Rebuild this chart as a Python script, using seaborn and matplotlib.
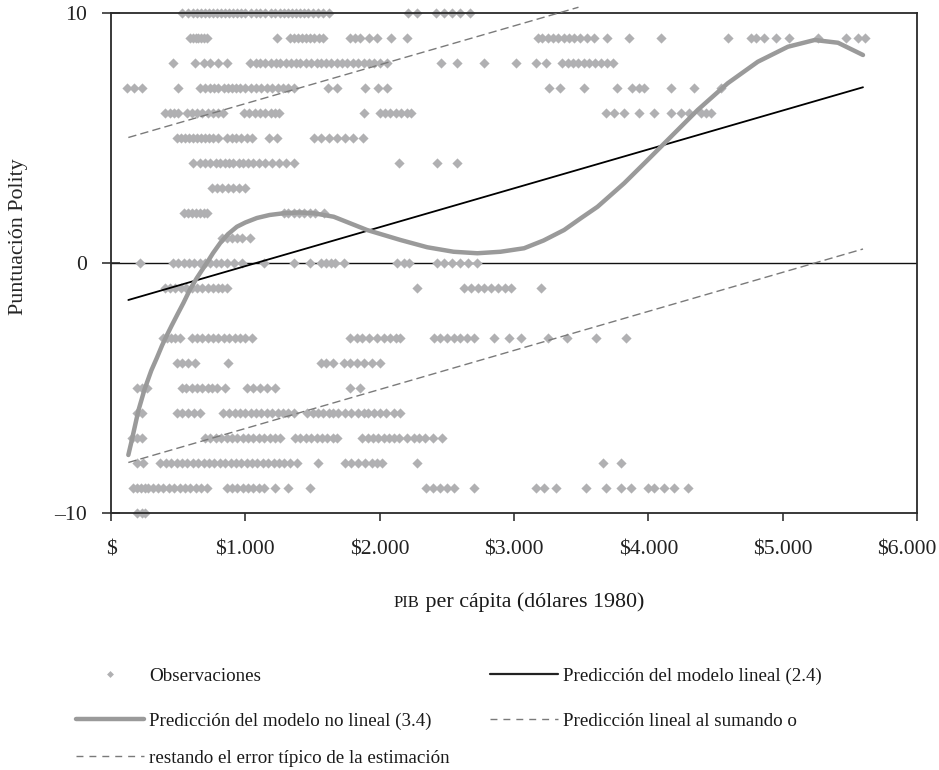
import matplotlib
matplotlib.use("Agg")
import matplotlib.pyplot as plt
import seaborn as sns
import pandas as pd
from matplotlib.lines import Line2D
from matplotlib.transforms import ScaledTranslation

# ---------------- data ----------------
# Observations: x positions (GDP per capita, 1980 $) for each Polity score row
row_p10 = [530, 570, 610, 640, 670, 700, 730, 760, 790, 820, 850, 880, 910, 940, 970, 1000,
           1040, 1080, 1110, 1150, 1190, 1220, 1260, 1290, 1320, 1350, 1380, 1410, 1440, 1470,
           1500, 1540, 1580, 1620, 2210, 2280, 2420, 2480, 2540, 2600, 2670]
row_p9 = [590, 610, 630, 650, 670, 690, 713, 1235, 1335, 1360, 1390, 1420, 1450, 1480, 1510,
          1545, 1580, 1782, 1820, 1857, 1917, 1983, 2081, 2205, 3177, 3210, 3250, 3290, 3330,
          3370, 3410, 3450, 3490, 3540, 3594, 3696, 3855, 4094, 4591, 4765, 4800, 4862, 4952,
          5050, 5262, 5474, 5561, 5610]
row_p8 = [463, 626, 690, 740, 800, 863, 1037, 1080, 1110, 1150, 1190, 1230, 1260, 1300, 1340,
          1380, 1410, 1450, 1490, 1530, 1560, 1600, 1640, 1680, 1720, 1760, 1800, 1840, 1880,
          1920, 1960, 2000, 2056, 2453, 2578, 2775, 3012, 3162, 3236, 3361, 3400, 3440, 3480,
          3520, 3560, 3600, 3650, 3690, 3734]
row_p7 = [117, 170, 229, 500, 664, 700, 740, 770, 800, 840, 870, 900, 930, 960, 1000, 1040,
          1080, 1120, 1160, 1200, 1240, 1280, 1320, 1360, 1618, 1685, 1894, 1991, 2056, 3261,
          3346, 3520, 3770, 3882, 3930, 3969, 4168, 4342, 4541]
row_p6 = [403, 440, 470, 500, 565, 600, 640, 680, 720, 760, 800, 836, 987, 1030, 1070, 1110,
          1150, 1190, 1220, 1247, 1881, 2006, 2040, 2080, 2120, 2160, 2200, 2230, 3686, 3745,
          3820, 3932, 4044, 4168, 4243, 4303, 4392, 4430, 4467]
row_p5 = [490, 520, 550, 580, 610, 640, 670, 700, 730, 760, 798, 863, 900, 930, 970, 1010,
          1049, 1173, 1236, 1508, 1560, 1620, 1680, 1740, 1800, 1873]
row_p4 = [614, 660, 700, 740, 780, 810, 850, 880, 910, 950, 980, 1020, 1060, 1100, 1150, 1200,
          1250, 1300, 1360, 2142, 2429, 2578]
row_p3 = [751, 790, 830, 870, 910, 950, 999]
row_p2 = [540, 570, 600, 630, 660, 690, 713, 1285, 1320, 1360, 1400, 1440, 1480, 1520, 1583]
row_p1 = [826, 860, 900, 940, 975, 1037]
row_0 = [216, 463, 500, 540, 580, 620, 660, 700, 740, 780, 820, 860, 912, 975, 1136, 1360,
         1484, 1560, 1600, 1640, 1670, 1733, 2131, 2180, 2218, 2429, 2480, 2540, 2600, 2660, 2727]
row_m1 = [403, 440, 480, 520, 560, 600, 640, 680, 720, 760, 800, 830, 863, 2280, 2628, 2680,
          2730, 2780, 2830, 2880, 2930, 2975, 3199]
row_m3 = [388, 420, 450, 480, 515, 602, 640, 680, 720, 760, 800, 840, 880, 920, 960, 1000,
          1049, 1782, 1830, 1870, 1920, 1983, 2030, 2080, 2120, 2155, 2403, 2450, 2500, 2550,
          2600, 2650, 2700, 2850, 2962, 3050, 3250, 3398, 3609, 3833]
row_m4 = [490, 530, 570, 626, 873, 1560, 1600, 1655, 1733, 1780, 1830, 1880, 1946, 2006]
row_m5 = [192, 230, 266, 527, 560, 600, 640, 680, 720, 750, 788, 850, 1012, 1060, 1110, 1160,
          1223, 1782, 1857]
row_m6 = [194, 230, 490, 530, 570, 620, 664, 836, 880, 920, 960, 1000, 1040, 1080, 1120, 1160,
          1200, 1240, 1280, 1320, 1360, 1460, 1500, 1540, 1580, 1620, 1655, 1693, 1740, 1790,
          1840, 1880, 1910, 1955, 2000, 2050, 2106, 2155]
row_m7 = [154, 190, 229, 701, 740, 780, 820, 860, 900, 937, 980, 1020, 1060, 1100, 1140, 1180,
          1220, 1260, 1372, 1410, 1450, 1490, 1530, 1570, 1610, 1650, 1683, 1870, 1910, 1950,
          1990, 2030, 2070, 2106, 2142, 2200, 2255, 2290, 2340, 2400, 2466]
row_m8 = [192, 240, 365, 410, 450, 490, 530, 565, 614, 650, 690, 730, 770, 810, 850, 890, 930,
          970, 1010, 1050, 1090, 1130, 1170, 1210, 1250, 1290, 1330, 1385, 1544, 1745, 1790,
          1840, 1890, 1940, 1980, 2019, 2280, 3659, 3797]
row_m9 = [166, 190, 220, 250, 278, 316, 350, 390, 430, 470, 510, 550, 590, 630, 670, 713, 863,
          900, 940, 980, 1020, 1060, 1100, 1136, 1223, 1320, 1484, 2342, 2400, 2450, 2500, 2553,
          2700, 3162, 3224, 3311, 3535, 3684, 3797, 3872, 3995, 4044, 4118, 4193, 4293]
row_m10 = [192, 230, 254]

obs_rows = {10: row_p10, 9: row_p9, 8: row_p8, 7: row_p7, 6: row_p6, 5: row_p5, 4: row_p4,
            3: row_p3, 2: row_p2, 1: row_p1, 0: row_0, -1: row_m1, -3: row_m3, -4: row_m4,
            -5: row_m5, -6: row_m6, -7: row_m7, -8: row_m8, -9: row_m9, -10: row_m10}

# Linear model prediction (2.4) and +/- standard error lines
lin_x = [129, 5598]
lin_y = [-1.48, 7.03]
upper_x = [129, 3480]
upper_y = [5.02, 10.23]
lower_x = [129, 5598]
lower_y = [-7.98, 0.56]

# Non-linear model prediction (3.4)
nl_x = [129, 150, 175, 204, 250, 300, 341, 380, 415, 452, 500, 539, 589, 639, 688, 713, 760,
        813, 870, 937, 1000, 1086, 1180, 1285, 1400, 1509, 1658, 1906, 2155, 2354, 2550, 2727,
        2900, 3075, 3220, 3373, 3500, 3622, 3820, 3995, 4168, 4367, 4591, 4815, 5039, 5238,
        5412, 5598]
nl_y = [-7.68, -7.2, -6.6, -5.9, -5.05, -4.3, -3.8, -3.3, -2.9, -2.5, -2.0, -1.6, -1.05, -0.6,
        -0.2, 0.0, 0.4, 0.8, 1.15, 1.45, 1.62, 1.8, 1.92, 1.99, 2.02, 1.99, 1.85, 1.32, 0.92,
        0.63, 0.45, 0.39, 0.45, 0.59, 0.9, 1.32, 1.8, 2.25, 3.19, 4.12, 5.05, 6.12, 7.19, 8.05,
        8.65, 8.92, 8.81, 8.32]

x_ticks = [0, 1000, 2000, 3000, 4000, 5000, 6000]
x_tick_labels = ["$", "$1.000", "$2.000", "$3.000", "$4.000", "$5.000", "$6.000"]
y_ticks = [-10, 0, 10]
y_tick_labels = ["\u201310", "0", "10"]

leg_obs = "Observaciones"
leg_lin = "Predicción del modelo lineal (2.4)"
leg_nl = "Predicción del modelo no lineal (3.4)"
leg_se1 = "Predicción lineal al sumando o"
leg_se2 = "restando el error típico de la estimación"

# ---------------- styling ----------------
sns.set_style("ticks")
plt.rcParams["font.family"] = ["Liberation Serif", "DejaVu Serif"]
plt.rcParams["text.color"] = "#1a1a1a"
FS_TICK = 15.6
FS_LAB = 15.8
FS_LEG = 13.7

C_OBS = "#b0b0b2"
C_NL = "#9a9a9a"
C_SE = "#7a7a7a"

W, H = 939, 770
fig = plt.figure(figsize=(W / 100, H / 100), dpi=100)
ax = fig.add_axes([111 / W, 1 - 513 / H, 806 / W, 500 / H])

obs_df = pd.DataFrame({
    "gdp": [x for y, xs in obs_rows.items() for x in xs],
    "polity": [y for y, xs in obs_rows.items() for x in xs],
})

ax.axhline(0, color="#111111", lw=1.0, zorder=0.5)

sns.scatterplot(data=obs_df, x="gdp", y="polity", ax=ax, marker="D", s=27,
                color=C_OBS, linewidth=0, zorder=2, clip_on=False, legend=False)

sns.lineplot(x=upper_x, y=upper_y, ax=ax, color=C_SE, lw=1.0,
             sort=False, estimator=None, zorder=3, clip_on=False)
ax.lines[-1].set_dashes((6, 3))
sns.lineplot(x=lower_x, y=lower_y, ax=ax, color=C_SE, lw=1.0,
             sort=False, estimator=None, zorder=3)
ax.lines[-1].set_dashes((6, 3))
sns.lineplot(x=lin_x, y=lin_y, ax=ax, color="#000000", lw=1.3,
             sort=False, estimator=None, zorder=4)
sns.lineplot(x=nl_x, y=nl_y, ax=ax, color=C_NL, lw=3.2,
             sort=False, estimator=None, zorder=5)

ax.set_xlim(0, 6000)
ax.set_ylim(-10, 10)
ax.set_xticks(x_ticks)
ax.set_xticklabels(x_tick_labels)
ax.set_yticks(y_ticks)
ax.set_yticklabels(y_tick_labels)
ax.tick_params(axis="x", direction="out", length=6, width=1.1, pad=14,
               labelsize=FS_TICK, colors="#222222")
ax.tick_params(axis="y", direction="inout", length=13, width=1.1, pad=11,
               labelsize=FS_TICK, colors="#222222")
# last tick label pushed left so it stays inside the picture (as in the original)
last = ax.get_xticklabels()[-1]
last.set_transform(last.get_transform() + ScaledTranslation(-0.10, 0, fig.dpi_scale_trans))

for sp in ax.spines.values():
    sp.set_visible(True)
    sp.set_linewidth(1.3)
    sp.set_color("#2a2a2a")
ax.set_xlabel("")
ax.set_ylabel("Puntuación Polity", fontsize=FS_LAB)
ax.yaxis.set_label_coords((28 - 111) / 806, (513 - 237) / 500)

# x label with small-caps "PIB"
fig.canvas.draw()
rend = fig.canvas.get_renderer()
yb = 1 - 607 / H
t1 = fig.text(0, yb, "PIB", fontsize=FS_LAB * 0.76, va="baseline", ha="left")
t2 = fig.text(0, yb, " per cápita (dólares 1980)", fontsize=FS_LAB, va="baseline", ha="left")
w1 = t1.get_window_extent(rend).width
w2 = t2.get_window_extent(rend).width
x0 = 519 - (w1 + w2) / 2
t1.set_x(x0 / W)
t2.set_x((x0 + w1) / W)

# ---------------- legend (manual placement, like the original) ----------------
h_obs = Line2D([], [], ls="none", marker="D", markersize=3.5, color=C_OBS, mew=0)
h_lin = Line2D([], [], color="#222222", lw=1.6)
h_nl = Line2D([], [], color=C_NL, lw=3.2)
h_se = Line2D([], [], color=C_SE, lw=1.0, dashes=(5, 4.3))

entries = [
    (h_obs, leg_obs, 76, 676),
    (h_lin, leg_lin, 490, 676),
    (h_nl, leg_nl, 76, 721),
    (h_se, leg_se1, 490, 721),
    (h_se, leg_se2, 76, 758),
]
for h, lab, px, py in entries:
    fig.legend(handles=[h], labels=[lab], loc="center left",
               bbox_to_anchor=(px / W, 1 - py / H), frameon=False, fontsize=FS_LEG,
               handlelength=3.55, handletextpad=0.3, borderpad=0, borderaxespad=0)

fig.savefig("out.png", dpi=100)
